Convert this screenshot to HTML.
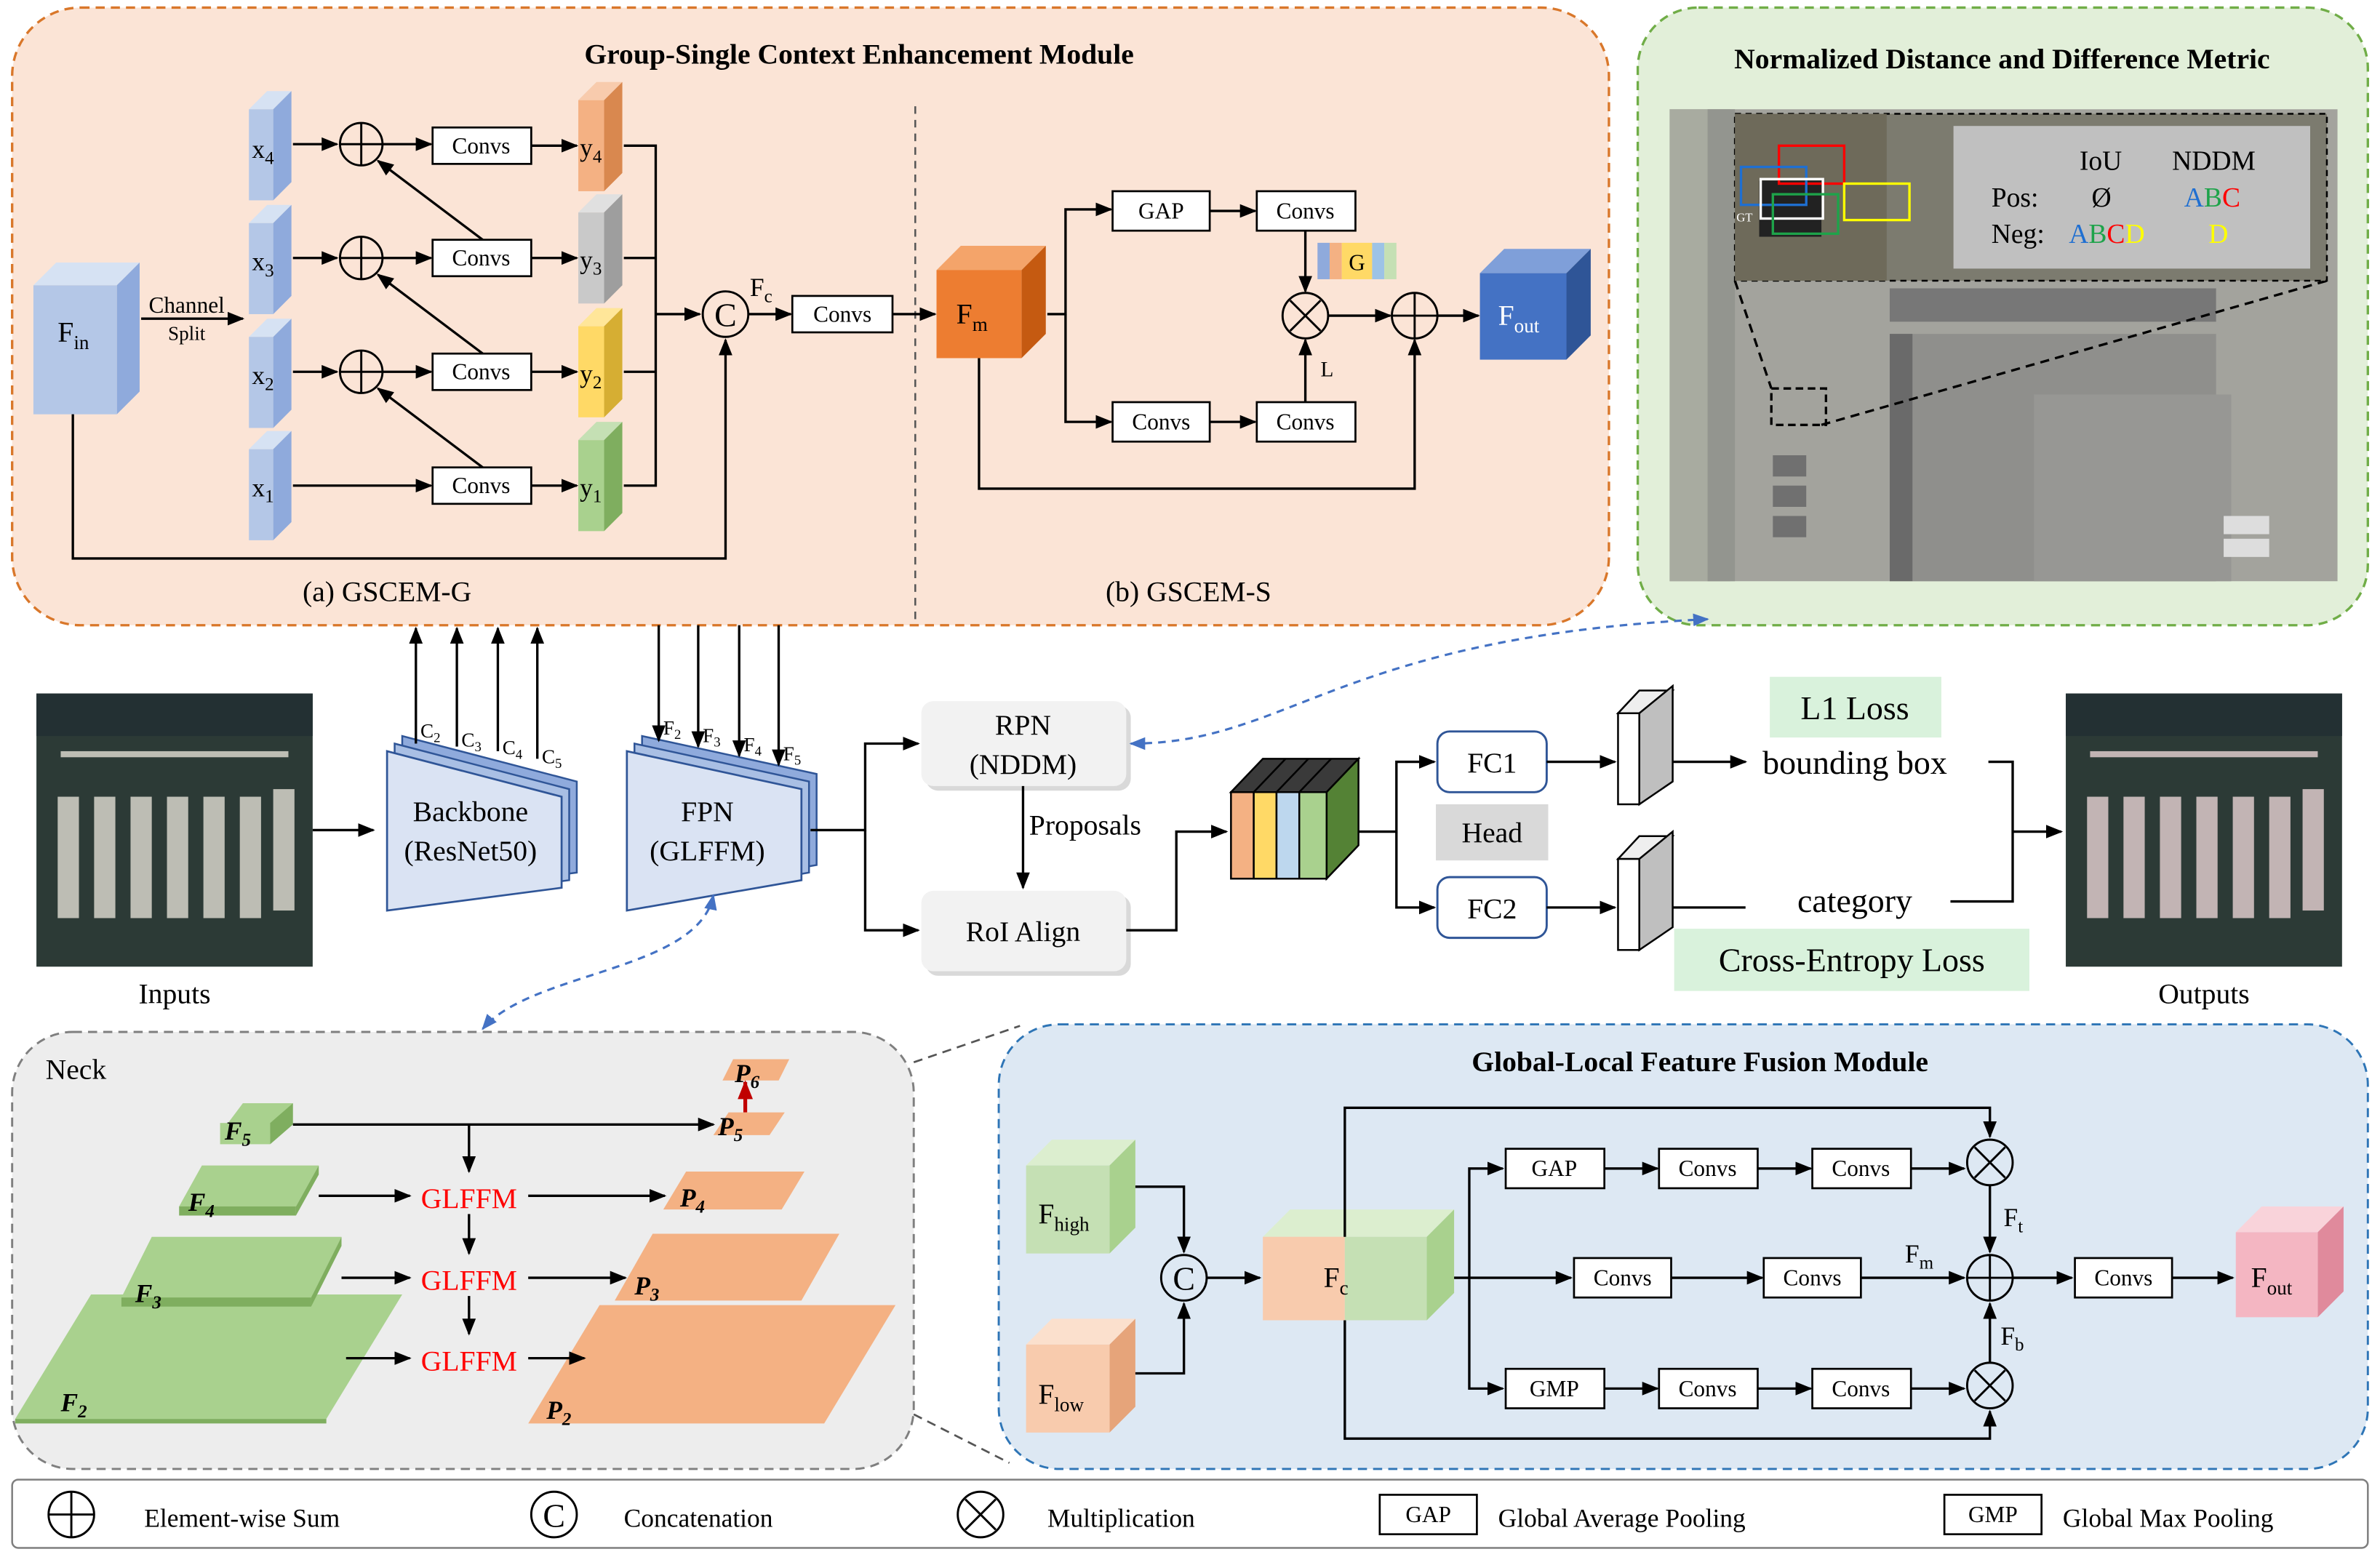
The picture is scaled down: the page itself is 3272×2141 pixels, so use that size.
<!DOCTYPE html>
<html><head><meta charset="utf-8"><style>
html,body{margin:0;padding:0;background:#fff}
svg{display:block}
svg, svg text, svg tspan{font-family:"Liberation Serif","DejaVu Serif",serif !important}
text{fill:#000}
.b{fill:#fff;stroke:#000;stroke-width:1.3}
.l{stroke:#000;stroke-width:1.6;fill:none}
.s{font-size:15px}
</style></head><body>
<svg width="3272" height="2141" viewBox="0 0 1568 1026" xmlns="http://www.w3.org/2000/svg" font-family="Liberation Serif, DejaVu Serif, serif">
<defs>
<marker id="a" viewBox="0 0 10 10" refX="9" refY="5" markerWidth="7" markerHeight="7" orient="auto-start-reverse"><path d="M0,1L10,5L0,9z" fill="#000"/></marker>
<marker id="ab" viewBox="0 0 10 10" refX="9" refY="5" markerWidth="7" markerHeight="7" orient="auto-start-reverse"><path d="M0,1L10,5L0,9z" fill="#4472c4"/></marker>
<marker id="ar" viewBox="0 0 10 10" refX="9" refY="5" markerWidth="5" markerHeight="5" orient="auto"><path d="M0,1L10,5L0,9z" fill="#c00000"/></marker>
</defs>
<rect width="1568" height="1026" fill="#fff"/>

<rect x="8" y="5" width="1052" height="407" rx="45" fill="#fbe4d6" stroke="#d9772a" stroke-width="1.6" stroke-dasharray="6,4"/>
<rect x="1079" y="5" width="481" height="407" rx="40" fill="#e2efd9" stroke="#70ad47" stroke-width="1.6" stroke-dasharray="6,4"/>
<rect x="8" y="680" width="594" height="288" rx="40" fill="#ededed" stroke="#7f7f7f" stroke-width="1.4" stroke-dasharray="6,4"/>
<rect x="658" y="675" width="902" height="293" rx="40" fill="#dde8f3" stroke="#2e75b6" stroke-width="1.4" stroke-dasharray="6,4"/>
<rect x="8" y="975" width="1552" height="45" rx="4" fill="#fff" stroke="#7f7f7f" stroke-width="1.2"/>

<text x="566" y="42" font-size="19" font-weight="bold" text-anchor="middle">Group-Single Context Enhancement Module</text>
<text x="1319" y="45" font-size="19" font-weight="bold" text-anchor="middle">Normalized Distance and Difference Metric</text>
<text x="1120" y="706" font-size="19" font-weight="bold" text-anchor="middle">Global-Local Feature Fusion Module</text>
<line x1="603" y1="70" x2="603" y2="410" stroke="#555" stroke-width="1.2" stroke-dasharray="5,4"/>

<g>
<polygon points="22,188 37,173 92,173 77,188" fill="#d6e2f3"/><polygon points="77,188 92,173 92,258 77,273" fill="#8faadc"/><rect x="22" y="188" width="55" height="85" fill="#b4c7e7"/>
<text x="38" y="225" font-size="19">F<tspan font-size="13" dy="5">in</tspan></text>
<line class="l" x1="93" y1="210" x2="160" y2="210" marker-end="url(#a)"/>
<text x="123" y="206" class="s" text-anchor="middle">Channel</text><text x="123" y="224" font-size="13" text-anchor="middle">Split</text>
<g fill="#b4c7e7">
<polygon points="164,72 176,60 192,60 180,72" fill="#d6e2f3"/><polygon points="180,72 192,60 192,120 180,132" fill="#8faadc"/><rect x="164" y="72" width="16" height="60"/>
<polygon points="164,147 176,135 192,135 180,147" fill="#d6e2f3"/><polygon points="180,147 192,135 192,195 180,207" fill="#8faadc"/><rect x="164" y="147" width="16" height="60"/>
<polygon points="164,222 176,210 192,210 180,222" fill="#d6e2f3"/><polygon points="180,222 192,210 192,270 180,282" fill="#8faadc"/><rect x="164" y="222" width="16" height="60"/>
<polygon points="164,296 176,284 192,284 180,296" fill="#d6e2f3"/><polygon points="180,296 192,284 192,344 180,356" fill="#8faadc"/><rect x="164" y="296" width="16" height="60"/>
</g>
<text x="166" y="104" font-size="17">x<tspan font-size="12" dy="4">4</tspan></text>
<text x="166" y="178" font-size="17">x<tspan font-size="12" dy="4">3</tspan></text>
<text x="166" y="253" font-size="17">x<tspan font-size="12" dy="4">2</tspan></text>
<text x="166" y="327" font-size="17">x<tspan font-size="12" dy="4">1</tspan></text>
<g fill="none" stroke="#000" stroke-width="1.4">
<circle cx="238" cy="95" r="14"/><path d="M224,95h28M238,81v28"/>
<circle cx="238" cy="170" r="14"/><path d="M224,170h28M238,156v28"/>
<circle cx="238" cy="245" r="14"/><path d="M224,245h28M238,231v28"/>
</g>
<rect class="b" x="285" y="84" width="65" height="24"/><text x="317" y="101" class="s" text-anchor="middle">Convs</text>
<rect class="b" x="285" y="158" width="65" height="24"/><text x="317" y="175" class="s" text-anchor="middle">Convs</text>
<rect class="b" x="285" y="233" width="65" height="24"/><text x="317" y="250" class="s" text-anchor="middle">Convs</text>
<rect class="b" x="285" y="308" width="65" height="24"/><text x="317" y="325" class="s" text-anchor="middle">Convs</text>
<g class="l" marker-end="url(#a)">
<line x1="193" y1="95" x2="222" y2="95"/><line x1="252" y1="95" x2="284" y2="95"/>
<line x1="193" y1="170" x2="222" y2="170"/><line x1="252" y1="170" x2="284" y2="170"/>
<line x1="193" y1="245" x2="222" y2="245"/><line x1="252" y1="245" x2="284" y2="245"/>
<line x1="193" y1="320" x2="284" y2="320"/>
<line x1="318" y1="158" x2="249" y2="106"/>
<line x1="318" y1="233" x2="249" y2="181"/>
<line x1="318" y1="308" x2="249" y2="256"/>
<line x1="350" y1="96" x2="380" y2="96"/><line x1="350" y1="170" x2="380" y2="170"/><line x1="350" y1="245" x2="380" y2="245"/><line x1="350" y1="320" x2="380" y2="320"/>
</g>
<polygon points="381,66 393,54 410,54 398,66" fill="#f8cbad"/><polygon points="398,66 410,54 410,114 398,126" fill="#d9884f"/><rect x="381" y="66" width="17" height="60" fill="#f4b183"/>
<polygon points="381,140 393,128 410,128 398,140" fill="#e0e0e0"/><polygon points="398,140 410,128 410,188 398,200" fill="#9e9e9e"/><rect x="381" y="140" width="17" height="60" fill="#c9c9c9"/>
<polygon points="381,215 393,203 410,203 398,215" fill="#ffe699"/><polygon points="398,215 410,203 410,263 398,275" fill="#d6ae33"/><rect x="381" y="215" width="17" height="60" fill="#ffd966"/>
<polygon points="381,290 393,278 410,278 398,290" fill="#c5e0b4"/><polygon points="398,290 410,278 410,338 398,350" fill="#7fae5f"/><rect x="381" y="290" width="17" height="60" fill="#a9d18e"/>
<text x="382" y="103" font-size="17">y<tspan font-size="12" dy="4">4</tspan></text>
<text x="382" y="177" font-size="17">y<tspan font-size="12" dy="4">3</tspan></text>
<text x="382" y="252" font-size="17">y<tspan font-size="12" dy="4">2</tspan></text>
<text x="382" y="327" font-size="17">y<tspan font-size="12" dy="4">1</tspan></text>
<path class="l" d="M411,96H432V320H411M411,170H432M411,245H432"/>
<line class="l" x1="432" y1="207" x2="461" y2="207" marker-end="url(#a)"/>
<circle cx="478" cy="207" r="15" fill="none" stroke="#000" stroke-width="1.4"/><text x="478" y="215" font-size="22" text-anchor="middle">C</text>
<path class="l" d="M48,273V368H478V224" marker-end="url(#a)"/>
<text x="494" y="195" font-size="17">F<tspan font-size="12" dy="4">c</tspan></text>
<line class="l" x1="493" y1="207" x2="521" y2="207" marker-end="url(#a)"/>
<rect class="b" x="522" y="195" width="66" height="24"/><text x="555" y="212" class="s" text-anchor="middle">Convs</text>
<line class="l" x1="588" y1="207" x2="616" y2="207" marker-end="url(#a)"/>
<text x="255" y="396" font-size="19" text-anchor="middle">(a) GSCEM-G</text>
</g>

<g>
<polygon points="617,178 633,162 689,162 673,178" fill="#f4a46a"/><polygon points="673,178 689,162 689,220 673,236" fill="#c55a11"/><rect x="617" y="178" width="56" height="58" fill="#ed7d31"/>
<text x="630" y="213" font-size="19">F<tspan font-size="13" dy="5">m</tspan></text>
<path class="l" d="M690,207H702V138H732" marker-end="url(#a)"/>
<path class="l" d="M702,207V278H732" marker-end="url(#a)"/>
<rect class="b" x="733" y="126" width="64" height="26"/><text x="765" y="144" class="s" text-anchor="middle">GAP</text>
<rect class="b" x="733" y="265" width="64" height="26"/><text x="765" y="283" class="s" text-anchor="middle">Convs</text>
<line class="l" x1="797" y1="139" x2="827" y2="139" marker-end="url(#a)"/>
<line class="l" x1="797" y1="278" x2="827" y2="278" marker-end="url(#a)"/>
<rect class="b" x="828" y="126" width="65" height="26"/><text x="860" y="144" class="s" text-anchor="middle">Convs</text>
<rect class="b" x="828" y="265" width="65" height="26"/><text x="860" y="283" class="s" text-anchor="middle">Convs</text>
<rect x="868" y="160" width="8" height="24" fill="#8faadc"/><rect x="876" y="160" width="8" height="24" fill="#f4b183"/><rect x="884" y="160" width="20" height="24" fill="#ffd966"/><rect x="904" y="160" width="8" height="24" fill="#9dc3e6"/><rect x="912" y="160" width="8" height="24" fill="#c5e0b4"/>
<text x="894" y="178" class="s" text-anchor="middle">G</text>
<line class="l" x1="860" y1="152" x2="860" y2="192" marker-end="url(#a)"/>
<line class="l" x1="860" y1="265" x2="860" y2="224" marker-end="url(#a)"/>
<text x="870" y="248" font-size="14">L</text>
<circle cx="860" cy="208" r="15" fill="none" stroke="#000" stroke-width="1.4"/><path d="M850,198l20,20M870,198l-20,20" stroke="#000" stroke-width="1.4"/>
<line class="l" x1="875" y1="208" x2="916" y2="208" marker-end="url(#a)"/>
<circle cx="932" cy="208" r="15" fill="none" stroke="#000" stroke-width="1.4"/><path d="M917,208h30M932,193v30" stroke="#000" stroke-width="1.4"/>
<path class="l" d="M645,236V322H932V224" marker-end="url(#a)"/>
<line class="l" x1="947" y1="208" x2="974" y2="208" marker-end="url(#a)"/>
<polygon points="975,180 991,164 1048,164 1032,180" fill="#7f9fd9"/><polygon points="1032,180 1048,164 1048,221 1032,237" fill="#2f5597"/><rect x="975" y="180" width="57" height="57" fill="#4472c4"/>
<text x="987" y="214" font-size="19" style="fill:#fff">F<tspan font-size="13" dy="5" style="fill:#fff">out</tspan></text>
<text x="783" y="396" font-size="19" text-anchor="middle">(b) GSCEM-S</text>
</g>

<rect x="1100" y="72" width="440" height="311" fill="#a3a39d"/>
<rect x="1100" y="72" width="40" height="311" fill="#a8aba0"/>
<rect x="1125" y="72" width="18" height="311" fill="#93958f"/>
<polygon points="1260,220 1460,220 1460,383 1260,383" fill="#8f8f8c"/>
<polygon points="1340,260 1470,260 1470,383 1340,383" fill="#979794"/>
<rect x="1245" y="220" width="15" height="163" fill="#6a6a6a"/>
<rect x="1245" y="190" width="215" height="22" fill="#777"/>
<rect x="1168" y="340" width="22" height="14" fill="#707070"/><rect x="1168" y="320" width="22" height="14" fill="#707070"/><rect x="1168" y="300" width="22" height="14" fill="#707070"/>
<rect x="1465" y="340" width="30" height="12" fill="#ddd"/><rect x="1465" y="355" width="30" height="12" fill="#ddd"/>
<rect x="1167" y="256" width="36" height="24" fill="none" stroke="#000" stroke-width="1.6" stroke-dasharray="5,3"/>
<line x1="1143" y1="185" x2="1167" y2="256" stroke="#000" stroke-width="1.6" stroke-dasharray="6,4"/>
<line x1="1200" y1="280" x2="1533" y2="185" stroke="#000" stroke-width="1.6" stroke-dasharray="6,4"/>
<rect x="1143" y="75" width="390" height="110" fill="#7c7b6f" stroke="#000" stroke-width="1.2" stroke-dasharray="4,3"/>
<rect x="1143" y="75" width="100" height="110" fill="#6e6a5a"/>
<rect x="1287" y="83" width="235" height="94" fill="#c0c0c0"/>
<rect x="1159" y="119" width="41" height="37" fill="#222"/>
<rect x="1172" y="96" width="43" height="25" fill="none" stroke="#f00" stroke-width="1.6"/>
<rect x="1147" y="110" width="43" height="25" fill="none" stroke="#1f6fd1" stroke-width="1.6"/>
<rect x="1160" y="118" width="41" height="26" fill="none" stroke="#fff" stroke-width="1.6"/>
<rect x="1168" y="128" width="43" height="26" fill="none" stroke="#1ea34a" stroke-width="1.6"/>
<rect x="1215" y="121" width="43" height="24" fill="none" stroke="#ff0" stroke-width="1.6"/>
<text x="1144" y="146" font-size="8" style="fill:#fff">GT</text>
<text x="1370" y="112" font-size="18">IoU</text><text x="1431" y="112" font-size="18">NDDM</text>
<text x="1312" y="136" font-size="18">Pos:</text><text x="1378" y="136" font-size="18">Ø</text>
<text x="1439" y="136" font-size="18"><tspan style="fill:#1f6fd1">A</tspan><tspan style="fill:#1ea34a">B</tspan><tspan style="fill:#f00">C</tspan></text>
<text x="1312" y="160" font-size="18">Neg:</text>
<text x="1363" y="160" font-size="18"><tspan style="fill:#1f6fd1">A</tspan><tspan style="fill:#1ea34a">B</tspan><tspan style="fill:#f00">C</tspan><tspan style="fill:#ff0">D</tspan></text>
<text x="1455" y="160" font-size="18" style="fill:#ff0">D</text>

<rect x="24" y="457" width="182" height="180" fill="#2c3a36"/>
<g fill="#bdbdb4">
<rect x="38" y="525" width="14" height="80"/><rect x="62" y="525" width="14" height="80"/><rect x="86" y="525" width="14" height="80"/><rect x="110" y="525" width="14" height="80"/><rect x="134" y="525" width="14" height="80"/><rect x="158" y="525" width="14" height="80"/><rect x="180" y="520" width="14" height="80"/>
<rect x="40" y="495" width="150" height="4"/>
</g>
<rect x="24" y="457" width="182" height="28" fill="#233033"/>
<rect x="1361" y="457" width="182" height="180" fill="#2c3a36"/>
<g fill="#c2b4b4">
<rect x="1375" y="525" width="14" height="80"/><rect x="1399" y="525" width="14" height="80"/><rect x="1423" y="525" width="14" height="80"/><rect x="1447" y="525" width="14" height="80"/><rect x="1471" y="525" width="14" height="80"/><rect x="1495" y="525" width="14" height="80"/><rect x="1517" y="520" width="14" height="80"/>
<rect x="1377" y="495" width="150" height="4"/>
</g>
<rect x="1361" y="457" width="182" height="28" fill="#233033"/>
<text x="115" y="661" font-size="19" text-anchor="middle">Inputs</text>
<text x="1452" y="661" font-size="19" text-anchor="middle">Outputs</text>
<line class="l" x1="206" y1="547" x2="246" y2="547" marker-end="url(#a)"/>

<polygon points="265,485 380,515 380,575 265,590" fill="#8faadc" stroke="#2f5597" stroke-width="1.2"/>
<polygon points="260,490 375,520 375,580 260,595" fill="#a9bfe4" stroke="#2f5597" stroke-width="1.2"/>
<polygon points="255,495 370,525 370,585 255,600" fill="#dae3f3" stroke="#2f5597" stroke-width="1.3"/>
<text x="310" y="541" font-size="19" text-anchor="middle">Backbone</text>
<text x="310" y="567" font-size="19" text-anchor="middle">(ResNet50)</text>
<g class="l" marker-end="url(#a)"><line x1="274" y1="490" x2="274" y2="414"/><line x1="301" y1="492" x2="301" y2="414"/><line x1="328" y1="495" x2="328" y2="414"/><line x1="354" y1="500" x2="354" y2="414"/></g>
<text x="277" y="486" font-size="13">C<tspan font-size="9" dy="3">2</tspan></text>
<text x="304" y="492" font-size="13">C<tspan font-size="9" dy="3">3</tspan></text>
<text x="331" y="497" font-size="13">C<tspan font-size="9" dy="3">4</tspan></text>
<text x="357" y="503" font-size="13">C<tspan font-size="9" dy="3">5</tspan></text>

<polygon points="423,485 538,510 538,570 423,590" fill="#8faadc" stroke="#2f5597" stroke-width="1.2"/>
<polygon points="418,490 533,515 533,575 418,595" fill="#a9bfe4" stroke="#2f5597" stroke-width="1.2"/>
<polygon points="413,495 528,520 528,580 413,600" fill="#dae3f3" stroke="#2f5597" stroke-width="1.3"/>
<text x="466" y="541" font-size="19" text-anchor="middle">FPN</text>
<text x="466" y="567" font-size="19" text-anchor="middle">(GLFFM)</text>
<g class="l" marker-end="url(#a)"><line x1="434" y1="412" x2="434" y2="488"/><line x1="460" y1="412" x2="460" y2="492"/><line x1="487" y1="412" x2="487" y2="498"/><line x1="513" y1="412" x2="513" y2="504"/></g>
<text x="437" y="484" font-size="13">F<tspan font-size="9" dy="3">2</tspan></text>
<text x="463" y="489" font-size="13">F<tspan font-size="9" dy="3">3</tspan></text>
<text x="490" y="495" font-size="13">F<tspan font-size="9" dy="3">4</tspan></text>
<text x="516" y="501" font-size="13">F<tspan font-size="9" dy="3">5</tspan></text>
<path class="l" d="M534,547H570V490H605" marker-end="url(#a)"/>
<path class="l" d="M570,547V613H605" marker-end="url(#a)"/>

<rect x="610" y="465" width="135" height="56" rx="8" fill="#bfbfbf" opacity="0.6"/>
<rect x="607" y="462" width="135" height="56" rx="8" fill="#f2f2f2"/>
<text x="674" y="484" font-size="19" text-anchor="middle">RPN</text><text x="674" y="510" font-size="19" text-anchor="middle">(NDDM)</text>
<rect x="610" y="590" width="135" height="53" rx="8" fill="#bfbfbf" opacity="0.6"/>
<rect x="607" y="587" width="135" height="53" rx="8" fill="#f2f2f2"/>
<text x="674" y="620" font-size="19" text-anchor="middle">RoI Align</text>
<line class="l" x1="674" y1="518" x2="674" y2="585" marker-end="url(#a)"/>
<text x="678" y="550" font-size="19">Proposals</text>
<path class="l" d="M742,613H775V548H808" marker-end="url(#a)"/>
<g stroke="#000" stroke-width="1.2">
<polygon points="811,522 832,500 895,500 874,522" fill="#3a3a3a"/>
<polygon points="874,522 895,500 895,557 874,579" fill="#548235"/>
<rect x="811" y="522" width="15" height="57" fill="#f4b183"/>
<polygon points="826,522 826,579 841,579 841,522" fill="#ffd966"/>
<polygon points="841,522 841,579 856,579 856,522" fill="#bdd7ee"/>
<polygon points="856,522 856,579 874,579 874,522" fill="#a9d18e"/>
<path d="M826,522l21,-22M841,522l21,-22M856,522l21,-22" fill="none"/>
</g>
<path class="l" d="M895,548H920V502H945" marker-end="url(#a)"/>
<path class="l" d="M920,548V598H945" marker-end="url(#a)"/>
<rect x="947" y="482" width="72" height="40" rx="8" fill="#fff" stroke="#2f5597" stroke-width="1.4"/><text x="983" y="509" font-size="19" text-anchor="middle">FC1</text>
<rect x="946" y="530" width="74" height="37" fill="#d9d9d9"/><text x="983" y="555" font-size="19" text-anchor="middle">Head</text>
<rect x="947" y="578" width="72" height="40" rx="8" fill="#fff" stroke="#2f5597" stroke-width="1.4"/><text x="983" y="605" font-size="19" text-anchor="middle">FC2</text>
<line class="l" x1="1019" y1="502" x2="1064" y2="502" marker-end="url(#a)"/>
<line class="l" x1="1019" y1="598" x2="1064" y2="598" marker-end="url(#a)"/>
<g stroke="#000" stroke-width="1.2">
<polygon points="1066,470 1080,455 1102,455 1088,470" fill="#eee"/><polygon points="1080,470 1102,452 1102,515 1080,530" fill="#bfbfbf"/><rect x="1066" y="470" width="14" height="60" fill="#fff"/>
<polygon points="1066,566 1080,551 1102,551 1088,566" fill="#eee"/><polygon points="1080,566 1102,548 1102,611 1080,626" fill="#bfbfbf"/><rect x="1066" y="566" width="14" height="60" fill="#fff"/>
</g>
<line class="l" x1="1102" y1="502" x2="1150" y2="502" marker-end="url(#a)"/>
<line class="l" x1="1102" y1="598" x2="1150" y2="598"/>
<rect x="1166" y="446" width="113" height="40" fill="#d9f2dc"/><text x="1222" y="474" font-size="22" text-anchor="middle">L1 Loss</text>
<text x="1222" y="510" font-size="22" text-anchor="middle">bounding box</text>
<text x="1222" y="601" font-size="22" text-anchor="middle">category</text>
<rect x="1103" y="612" width="234" height="41" fill="#d9f2dc"/><text x="1220" y="640" font-size="22" text-anchor="middle">Cross-Entropy Loss</text>
<path class="l" d="M1310,502H1326V594H1285"/>
<line class="l" x1="1326" y1="548" x2="1358" y2="548" marker-end="url(#a)"/>

<path d="M745,490 C850,490 880,420 1125,408" fill="none" stroke="#4472c4" stroke-width="1.5" stroke-dasharray="5,4" marker-start="url(#ab)" marker-end="url(#ab)"/>
<path d="M470,590 C460,640 350,640 318,678" fill="none" stroke="#4472c4" stroke-width="1.5" stroke-dasharray="5,4" marker-start="url(#ab)" marker-end="url(#ab)"/>
<line x1="602" y1="700" x2="672" y2="676" stroke="#555" stroke-width="1.3" stroke-dasharray="6,4"/>
<line x1="602" y1="932" x2="665" y2="964" stroke="#555" stroke-width="1.3" stroke-dasharray="6,4"/>

<text x="30" y="711" font-size="19">Neck</text>
<g>
<polygon points="10,935 60,853 265,853 215,935" fill="#a9d18e"/><polygon points="10,935 215,935 215,938 10,938" fill="#7fae5f"/>
<polygon points="80,855 100,815 225,815 205,855" fill="#a9d18e"/><rect x="80" y="855" width="125" height="6" fill="#7fae5f"/><polygon points="205,861 205,855 225,815 225,821" fill="#7fae5f"/>
<polygon points="118,795 133,768 210,768 195,795" fill="#a9d18e"/><rect x="118" y="795" width="77" height="6" fill="#7fae5f"/><polygon points="195,801 195,795 210,768 210,774" fill="#7fae5f"/>
<polygon points="145,747 160,727 193,727 178,747" fill="#a9d18e"/><rect x="145" y="740" width="33" height="14" fill="#a9d18e"/><polygon points="178,754 178,740 193,727 193,741" fill="#7fae5f"/>
<polygon points="348,938 395,860 590,860 543,938" fill="#f4b183"/>
<polygon points="405,857 430,813 553,813 528,857" fill="#f4b183"/>
<polygon points="437,797 452,772 530,772 515,797" fill="#f4b183"/>
<polygon points="470,748 480,733 517,733 507,748" fill="#f4b183"/>
<polygon points="476,712 483,698 520,698 513,712" fill="#f4b183"/>
</g>
<g font-size="17" font-weight="bold" font-style="italic">
<text x="148" y="751">F<tspan font-size="12" dy="4">5</tspan></text>
<text x="124" y="798">F<tspan font-size="12" dy="4">4</tspan></text>
<text x="89" y="858">F<tspan font-size="12" dy="4">3</tspan></text>
<text x="40" y="930">F<tspan font-size="12" dy="4">2</tspan></text>
<text x="473" y="748">P<tspan font-size="12" dy="4">5</tspan></text>
<text x="484" y="713">P<tspan font-size="12" dy="4">6</tspan></text>
<text x="448" y="795">P<tspan font-size="12" dy="4">4</tspan></text>
<text x="418" y="853">P<tspan font-size="12" dy="4">3</tspan></text>
<text x="360" y="935">P<tspan font-size="12" dy="4">2</tspan></text>
</g>
<line x1="491" y1="733" x2="491" y2="713" stroke="#c00000" stroke-width="2.5" marker-end="url(#ar)"/>
<g class="l" marker-end="url(#a)">
<line x1="193" y1="741" x2="470" y2="741"/>
<line x1="309" y1="741" x2="309" y2="772"/>
<line x1="210" y1="788" x2="270" y2="788"/>
<line x1="348" y1="788" x2="438" y2="788"/>
<line x1="309" y1="800" x2="309" y2="826"/>
<line x1="225" y1="842" x2="270" y2="842"/>
<line x1="348" y1="842" x2="412" y2="842"/>
<line x1="309" y1="854" x2="309" y2="879"/>
<line x1="228" y1="895" x2="270" y2="895"/>
<line x1="348" y1="895" x2="385" y2="895"/>
</g>
<g font-size="19" text-anchor="middle">
<text x="309" y="796" style="fill:#f00">GLFFM</text><text x="309" y="850" style="fill:#f00">GLFFM</text><text x="309" y="903" style="fill:#f00">GLFFM</text>
</g>

<polygon points="676,768 693,751 748,751 731,768" fill="#dceecf"/><polygon points="731,768 748,751 748,809 731,826" fill="#a9d18e"/><rect x="676" y="768" width="55" height="58" fill="#c5e0b4"/>
<text x="684" y="806" font-size="19">F<tspan font-size="13" dy="5">high</tspan></text>
<polygon points="676,886 693,869 748,869 731,886" fill="#fbe0cd"/><polygon points="731,886 748,869 748,927 731,944" fill="#e6a47a"/><rect x="676" y="886" width="55" height="58" fill="#f8cbad"/>
<text x="684" y="925" font-size="19">F<tspan font-size="13" dy="5">low</tspan></text>
<path class="l" d="M748,782H780V825" marker-end="url(#a)"/>
<path class="l" d="M748,905H780V859" marker-end="url(#a)"/>
<circle cx="780" cy="842" r="15" fill="none" stroke="#000" stroke-width="1.4"/><text x="780" y="850" font-size="22" text-anchor="middle">C</text>
<line class="l" x1="795" y1="842" x2="830" y2="842" marker-end="url(#a)"/>
<polygon points="832,815 850,797 958,797 940,815" fill="#dceecf"/>
<rect x="832" y="815" width="54" height="55" fill="#f8cbad"/><rect x="886" y="815" width="54" height="55" fill="#c5e0b4"/>
<polygon points="940,815 958,797 958,852 940,870" fill="#a9d18e"/>
<text x="872" y="848" font-size="19">F<tspan font-size="13" dy="5">c</tspan></text>
<path class="l" d="M886,815V730H1311V749" marker-end="url(#a)"/>
<path class="l" d="M886,870V948H1311V930" marker-end="url(#a)"/>
<line class="l" x1="958" y1="842" x2="1035" y2="842" marker-end="url(#a)"/>
<path class="l" d="M968,842V770H990" marker-end="url(#a)"/>
<path class="l" d="M968,842V915H990" marker-end="url(#a)"/>
<rect class="b" x="992" y="757" width="65" height="26"/><text x="1024" y="775" class="s" text-anchor="middle">GAP</text>
<rect class="b" x="1093" y="757" width="65" height="26"/><text x="1125" y="775" class="s" text-anchor="middle">Convs</text>
<rect class="b" x="1194" y="757" width="65" height="26"/><text x="1226" y="775" class="s" text-anchor="middle">Convs</text>
<rect class="b" x="1037" y="829" width="64" height="26"/><text x="1069" y="847" class="s" text-anchor="middle">Convs</text>
<rect class="b" x="1162" y="829" width="64" height="26"/><text x="1194" y="847" class="s" text-anchor="middle">Convs</text>
<rect class="b" x="992" y="902" width="65" height="26"/><text x="1024" y="920" class="s" text-anchor="middle">GMP</text>
<rect class="b" x="1093" y="902" width="65" height="26"/><text x="1125" y="920" class="s" text-anchor="middle">Convs</text>
<rect class="b" x="1194" y="902" width="65" height="26"/><text x="1226" y="920" class="s" text-anchor="middle">Convs</text>
<g class="l" marker-end="url(#a)">
<line x1="1057" y1="770" x2="1092" y2="770"/><line x1="1158" y1="770" x2="1193" y2="770"/><line x1="1259" y1="770" x2="1294" y2="770"/>
<line x1="1101" y1="842" x2="1161" y2="842"/><line x1="1226" y1="842" x2="1294" y2="842"/>
<line x1="1057" y1="915" x2="1092" y2="915"/><line x1="1158" y1="915" x2="1193" y2="915"/><line x1="1259" y1="915" x2="1294" y2="915"/>
<line x1="1311" y1="781" x2="1311" y2="825"/><line x1="1311" y1="898" x2="1311" y2="859"/>
<line x1="1326" y1="842" x2="1365" y2="842"/><line x1="1431" y1="842" x2="1471" y2="842"/>
</g>
<text x="1255" y="832" font-size="17">F<tspan font-size="12" dy="4">m</tspan></text>
<text x="1320" y="808" font-size="17">F<tspan font-size="12" dy="4">t</tspan></text>
<text x="1318" y="886" font-size="17">F<tspan font-size="12" dy="4">b</tspan></text>
<g fill="none" stroke="#000" stroke-width="1.4">
<circle cx="1311" cy="766" r="15"/><path d="M1301,756l20,20M1321,756l-20,20"/>
<circle cx="1311" cy="842" r="15"/><path d="M1296,842h30M1311,827v30"/>
<circle cx="1311" cy="913" r="15"/><path d="M1301,903l20,20M1321,903l-20,20"/>
</g>
<rect class="b" x="1367" y="829" width="64" height="26"/><text x="1399" y="847" class="s" text-anchor="middle">Convs</text>
<polygon points="1473,812 1490,795 1544,795 1527,812" fill="#f9d3da"/><polygon points="1527,812 1544,795 1544,851 1527,868" fill="#e08a9c"/><rect x="1473" y="812" width="54" height="56" fill="#f4b6c2"/>
<text x="1483" y="848" font-size="19">F<tspan font-size="13" dy="5">out</tspan></text>

<g fill="none" stroke="#000" stroke-width="1.4">
<circle cx="47" cy="998" r="15"/><path d="M32,998h30M47,983v30"/>
<circle cx="365" cy="998" r="15"/>
<circle cx="646" cy="998" r="15"/><path d="M636,988l20,20M656,988l-20,20"/>
</g>
<text x="365" y="1006" font-size="22" text-anchor="middle">C</text>
<text x="95" y="1006" font-size="17">Element-wise Sum</text>
<text x="411" y="1006" font-size="17">Concatenation</text>
<text x="690" y="1006" font-size="17">Multiplication</text>
<rect class="b" x="909" y="985" width="64" height="26"/><text x="941" y="1003" class="s" text-anchor="middle">GAP</text>
<text x="987" y="1006" font-size="17">Global Average Pooling</text>
<rect class="b" x="1281" y="985" width="64" height="26"/><text x="1313" y="1003" class="s" text-anchor="middle">GMP</text>
<text x="1359" y="1006" font-size="17">Global Max Pooling</text>
</svg>
</body></html>
